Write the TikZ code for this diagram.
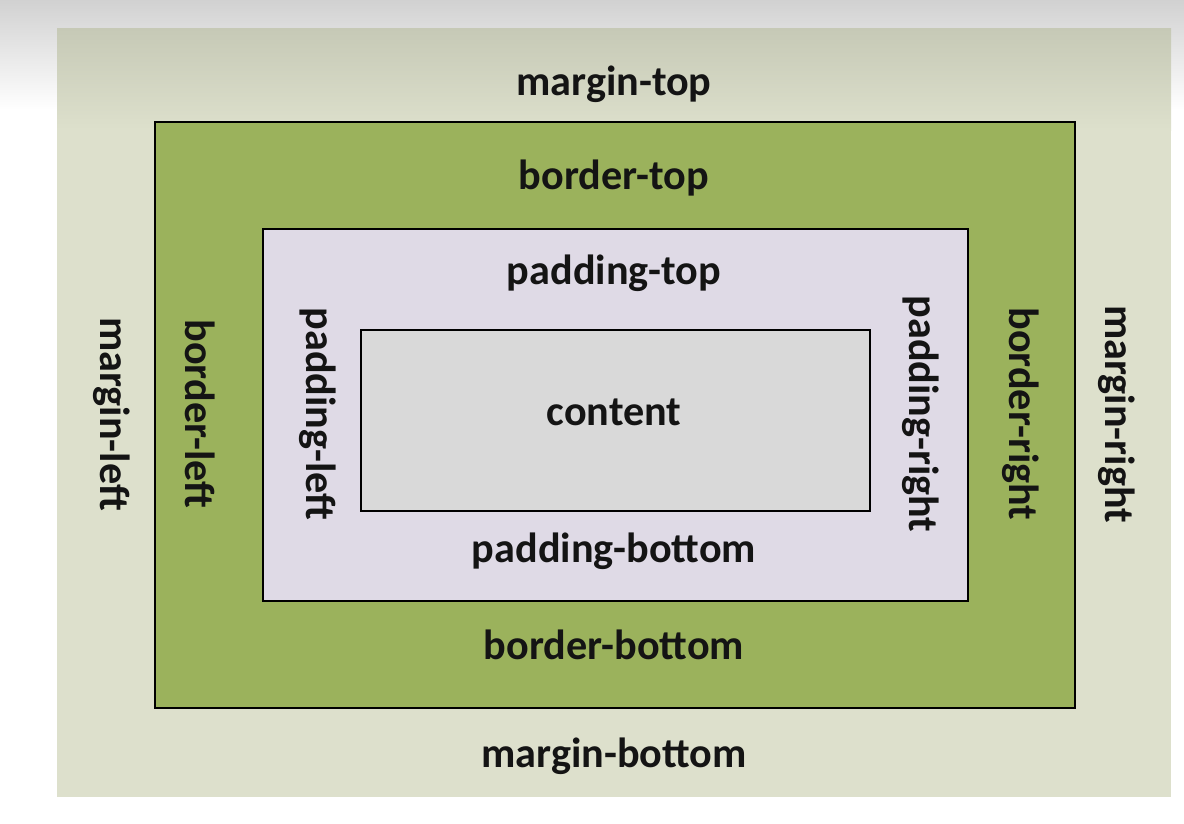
\documentclass[tikz,border=0pt]{standalone}
\usepackage{fontspec}
\setmainfont{Carlito}
\usepackage{xcolor}
\usetikzlibrary{positioning}

\definecolor{marginbg}{HTML}{DDE0CC}
\definecolor{margintop}{HTML}{C6C9B6}
\definecolor{borderbg}{HTML}{9BB25C}
\definecolor{paddingbg}{HTML}{DFDAE6}
\definecolor{contentbg}{HTML}{D9D9D9}

\begin{document}
\begin{tikzpicture}[
    x=0.025cm, y=-0.025cm,
    boxline/.style={draw=black, line width=0.8pt},
    lbl/.style={font=\bfseries\fontsize{30}{34}\selectfont, text=black!92, inner sep=0pt},
    vlbl/.style={lbl, rotate=-90},
]
\useasboundingbox (0,0) rectangle (1184,823);
\fill[white] (0,0) rectangle (1184,823);
\shade[top color=black!18, bottom color=white] (0,0) rectangle (1184,110);

% Margin
\fill[marginbg] (57,28) rectangle (1171,797);
\shade[top color=margintop, bottom color=marginbg] (57,28) rectangle (1171,130);

% Border
\fill[borderbg, boxline] (155,122) rectangle (1075,708);

% Padding
\fill[paddingbg, boxline] (263,229) rectangle (968,601);

% Content
\fill[contentbg, boxline] (361,330) rectangle (870,511);

% Labels
\node[lbl] (mtop) at (614,84) {margin-top};
\node[lbl] (btop) at (614,178) {border-top};
\node[lbl] (ptop) at (614,273) {padding-top};
\node[lbl] (content) at (614,412) {content};
\node[lbl] (pbottom) at (614,551) {padding-bottom};
\node[lbl] (bbottom) at (614,645) {border-bottom};
\node[lbl] (mbottom) at (614,756) {margin-bottom};

\node[vlbl] (mleft) at (112,414) {margin-left};
\node[vlbl] (bleft) at (200,414) {border-left};
\node[vlbl] (pleft) at (318,414) {padding-left};
\node[vlbl] (pright) at (921,414) {padding-right};
\node[vlbl] (bright) at (1021,414) {border-right};
\node[vlbl] (mright) at (1117,414) {margin-right};

\end{tikzpicture}
\end{document}
